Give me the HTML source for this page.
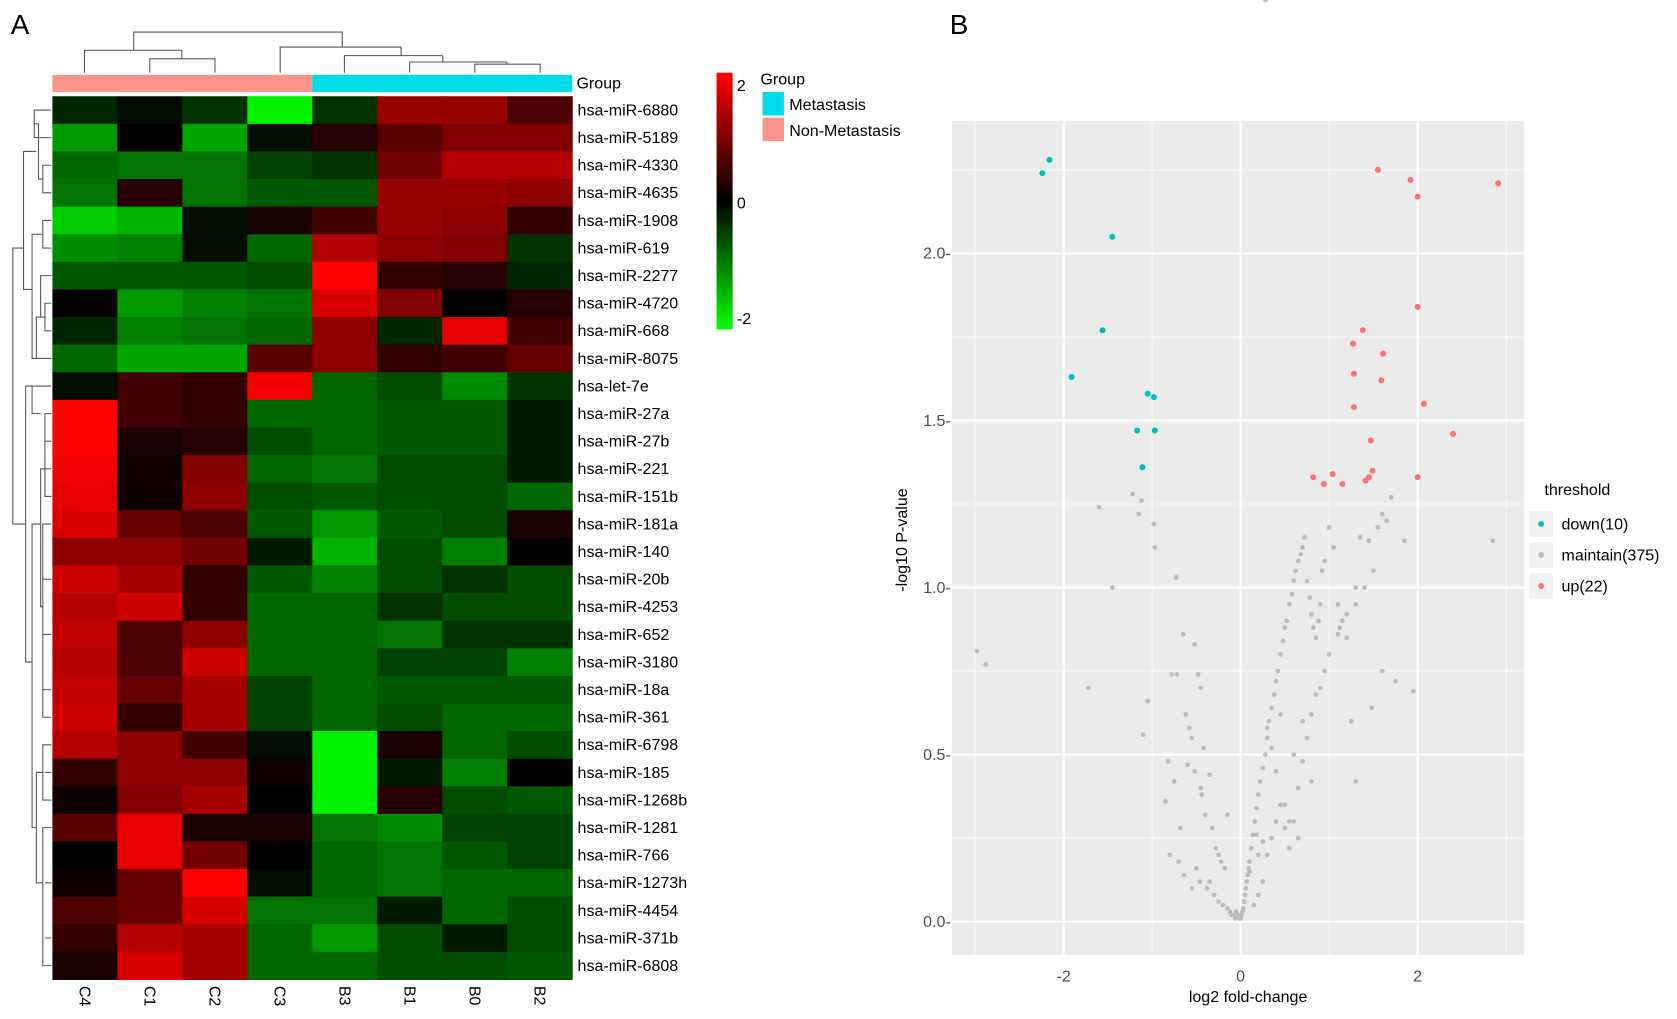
<!DOCTYPE html>
<html><head><meta charset="utf-8"><style>
html,body{margin:0;padding:0;background:#fff;}
svg{display:block;font-family:"Liberation Sans",Arial,sans-serif;}
</style></head><body>
<svg id="fig" width="1677" height="1019" viewBox="0 0 1568 953" preserveAspectRatio="none" xmlns="http://www.w3.org/2000/svg">
<text x="10" y="32" font-size="26">A</text>
<text x="888" y="32" font-size="26">B</text>
<g id="dendroTop" fill="none" stroke="#555" stroke-width="1">
<path d="M79,68V47H170V47M140,68V55H201V68M170,55V47"/>
<path d="M125,47V30H320V44"/>
<path d="M262,68V44H375V44M322,68V52H414V52M383,68V58H474V58M444,68V60H505V68M474,60V58M414,58V52M375,52V44"/>
</g>
<g id="dendroLeft" fill="none" stroke="#555" stroke-width="1"></g>
<rect x="49" y="70" width="243" height="16" fill="#fa9589"/>
<rect x="292" y="70" width="243" height="16" fill="#00dce8"/>
<text x="539" y="83" font-size="15">Group</text>
<g id="heat"></g>
<g id="rowLabels" font-size="15"></g>
<g id="colLabels" font-size="15"></g>
<defs><linearGradient id="cb" x1="0" y1="0" x2="0" y2="1"><stop offset="0" stop-color="#ff0000"/><stop offset="0.5" stop-color="#000"/><stop offset="1" stop-color="#00ff00"/></linearGradient></defs>
<rect x="670" y="68" width="15" height="240" fill="url(#cb)"/>
<text x="689" y="85" font-size="15">2</text>
<text x="689" y="195" font-size="15">0</text>
<text x="689" y="303" font-size="15">-2</text>
<text x="711" y="79" font-size="15">Group</text>
<rect x="713" y="86" width="20" height="22" fill="#00dce8"/>
<text x="738" y="103" font-size="15">Metastasis</text>
<rect x="713" y="110" width="20" height="22" fill="#fa9589"/>
<text x="738" y="127" font-size="15">Non-Metastasis</text>
<g id="volcano"></g>
</svg>
<script>
var NS="http://www.w3.org/2000/svg";
function mk(tag,attrs,parent,txt){var e=document.createElementNS(NS,tag);for(var k in attrs)e.setAttribute(k,attrs[k]);if(txt!==undefined)e.textContent=txt;parent.appendChild(e);return e;}
var columns=["C4","C1","C2","C3","B3","B1","B0","B2"];
var rows=["hsa-miR-6880","hsa-miR-5189","hsa-miR-4330","hsa-miR-4635","hsa-miR-1908","hsa-miR-619","hsa-miR-2277","hsa-miR-4720","hsa-miR-668","hsa-miR-8075","hsa-let-7e","hsa-miR-27a","hsa-miR-27b","hsa-miR-221","hsa-miR-151b","hsa-miR-181a","hsa-miR-140","hsa-miR-20b","hsa-miR-4253","hsa-miR-652","hsa-miR-3180","hsa-miR-18a","hsa-miR-361","hsa-miR-6798","hsa-miR-185","hsa-miR-1268b","hsa-miR-1281","hsa-miR-766","hsa-miR-1273h","hsa-miR-4454","hsa-miR-371b","hsa-miR-6808"];
var values=[
[-0.3,-0.1,-0.4,-1.9,-0.4,1.2,1.2,0.6],
[-1.2,0,-1.3,-0.1,0.3,0.7,1.0,1.0],
[-0.8,-0.9,-0.9,-0.5,-0.4,0.9,1.4,1.4],
[-0.9,0.3,-0.9,-0.7,-0.7,1.2,1.2,1.1],
[-1.6,-1.4,-0.1,0.2,0.5,1.2,1.1,0.4],
[-1.1,-1.0,-0.1,-0.8,1.4,1.1,1.0,-0.4],
[-0.7,-0.7,-0.7,-0.6,2.0,0.4,0.3,-0.3],
[0,-1.2,-1.0,-0.9,1.7,1.0,0,0.3],
[-0.3,-1.0,-0.9,-0.8,1.1,-0.3,1.8,0.5],
[-0.8,-1.3,-1.3,0.7,1.1,0.4,0.5,0.8],
[-0.1,0.5,0.4,1.9,-0.8,-0.6,-1.1,-0.4],
[2.0,0.5,0.4,-0.8,-0.8,-0.7,-0.7,-0.2],
[2.0,0.2,0.3,-0.6,-0.8,-0.7,-0.7,-0.2],
[1.9,0.1,1.0,-0.8,-0.9,-0.6,-0.6,-0.2],
[1.8,0.1,1.1,-0.6,-0.7,-0.6,-0.6,-0.8],
[1.7,0.8,0.6,-0.7,-1.2,-0.7,-0.6,0.2],
[1.1,1.1,0.9,-0.2,-1.4,-0.6,-1.0,0],
[1.6,1.3,0.4,-0.7,-1.0,-0.6,-0.4,-0.6],
[1.4,1.6,0.4,-0.8,-0.8,-0.4,-0.6,-0.6],
[1.5,0.6,1.1,-0.8,-0.8,-0.9,-0.4,-0.4],
[1.4,0.6,1.6,-0.8,-0.8,-0.5,-0.5,-1.0],
[1.5,0.8,1.3,-0.5,-0.8,-0.7,-0.7,-0.7],
[1.6,0.4,1.3,-0.5,-0.8,-0.6,-0.8,-0.8],
[1.4,1.1,0.5,-0.1,-1.9,0.2,-0.8,-0.6],
[0.4,1.1,1.1,0.1,-1.9,-0.2,-1.0,0],
[0.1,1.0,1.3,0,-1.9,0.3,-0.6,-0.7],
[0.7,1.8,0.2,0.2,-0.9,-1.1,-0.5,-0.5],
[0,1.8,0.9,0,-0.8,-0.9,-0.7,-0.5],
[0.1,0.8,2.0,-0.1,-0.8,-0.9,-0.8,-0.8],
[0.6,0.8,1.7,-0.9,-0.9,-0.2,-0.8,-0.6],
[0.4,1.4,1.3,-0.8,-1.2,-0.6,-0.2,-0.6],
[0.2,1.7,1.3,-0.8,-0.8,-0.6,-0.6,-0.7]];
var HX0=49,HY0=90,CW=(535-49)/8,RH=(916-90)/32;
function col(v){var t=Math.max(-2,Math.min(2,v))/2;var c=Math.round(Math.abs(t)*255);return t>=0?"rgb("+c+",0,0)":"rgb(0,"+c+",0)";}
var heat=document.getElementById("heat");
rows.forEach(function(r,i){
 values[i].forEach(function(v,j){
  var c=mk("rect",{x:HX0+j*CW,y:HY0+i*RH,width:CW+0.5,height:RH+0.5,fill:col(v)},heat);
  
  
 });
 var t=mk("text",{x:540,y:HY0+i*RH+RH/2+5},document.getElementById("rowLabels"),r);
 
 
});
columns.forEach(function(c,j){
 var cx=HX0+j*CW+CW/2;
 var t=mk("text",{x:cx-5,y:922,transform:"rotate(90 "+(cx-5)+" 922)"},document.getElementById("colLabels"),c);
 
 
});
// row dendrogram (structure only)
var dl=document.getElementById("dendroLeft");
function yr(i){return HY0+i*RH+RH/2;}
var dpaths=[
"M48,"+yr(0)+"H32V"+yr(1)+"H48","M48,"+yr(2)+"H40V"+yr(3)+"H48","M40,"+((yr(2)+yr(3))/2)+"H36V"+((yr(0)+yr(1))/2)+"H32",
"M48,"+yr(4)+"H40V"+yr(5)+"H48","M48,"+yr(7)+"H42V"+yr(8)+"H48","M42,"+((yr(7)+yr(8))/2)+"H38V"+yr(6)+"H48","M48,"+yr(9)+"H34V"+((yr(7)+yr(8))/2)+"H38",
"M40,"+((yr(4)+yr(5))/2)+"H30V"+yr(9)+"H34","M34,"+((yr(0)+yr(3))/2)+"H22V"+((yr(4)+yr(9))/2)+"H30",
"M48,"+yr(10)+"H30V"+yr(11)+"H38",
"M48,"+yr(11)+"H42V"+yr(14)+"H48","M48,"+yr(12)+"H42","M48,"+yr(13)+"H42",
"M48,"+yr(15)+"H40V"+yr(22)+"H48","M48,"+yr(17)+"H40","M48,"+yr(19)+"H40","M48,"+yr(21)+"H40",
"M42,"+yr(13)+"H38V"+yr(18)+"H40",
"M48,"+yr(23)+"H40V"+yr(25)+"H48","M48,"+yr(24)+"H42",
"M48,"+yr(26)+"H40V"+yr(31)+"H48","M48,"+yr(28)+"H42","M48,"+yr(30)+"H42",
"M40,"+yr(24)+"H34V"+yr(28)+"H40","M38,"+yr(15)+"H30V"+yr(26)+"H34",
"M30,"+yr(10)+"H24V"+yr(20)+"H30","M22,"+yr(5)+"H12V"+yr(15)+"H24"];
dpaths.forEach(function(d){var p=mk("path",{d:d},dl);});

// volcano
var xTicks=[-2,0,2];
var yTicks=[0,0.5,1,1.5,2];
var yTickLabels=["0.0-","0.5-","1.0-","1.5-","2.0-"];
var downX=[-2.16,-2.24,-1.45,-1.56,-1.91,-1.05,-0.98,-1.17,-0.97,-1.11];
var downY=[2.28,2.24,2.05,1.77,1.63,1.58,1.57,1.47,1.47,1.36];
var upX=[1.55,1.92,2.0,2.91,2.0,1.38,1.27,1.61,1.28,1.59,2.07,1.28,2.40,1.47,0.82,1.04,0.94,1.15,1.49,1.45,1.41,2.0];
var upY=[2.25,2.22,2.17,2.21,1.84,1.77,1.73,1.70,1.64,1.62,1.55,1.54,1.46,1.44,1.33,1.34,1.31,1.31,1.35,1.33,1.32,1.33];
var grayX=[-2.98,-2.88,-1.72,-1.6,-1.45,-1.22,-1.15,-1.12,-0.98,-0.97,-0.73,-1.05,-1.1,-0.65,-0.52,-0.48,-0.45,-0.78,-0.72,-0.62,-0.58,-0.55,-0.42,-0.35,-0.85,-0.82,-0.75,-0.68,-0.6,-0.52,-0.44,-0.4,-0.32,-0.28,-0.22,-0.18,-0.8,-0.7,-0.64,-0.5,-0.46,-0.38,-0.3,-0.25,-0.2,-0.15,-0.12,-0.1,-0.08,-0.06,-0.05,-0.03,-0.02,-0.01,0,0.01,0.02,0.03,0.04,0.05,0.06,0.07,0.08,0.09,0.1,0.12,0.14,0.16,0.18,0.2,0.22,0.25,0.28,0.3,0.32,0.35,0.38,0.4,0.42,0.45,0.48,0.5,0.52,0.55,0.58,0.6,0.62,0.65,0.68,0.7,0.72,0.75,0.78,0.8,0.82,0.85,0.88,0.9,0.92,0.95,1.0,1.05,1.1,1.15,1.2,1.25,1.3,0.15,0.2,0.25,0.3,0.35,0.4,0.45,0.5,0.55,0.6,0.65,0.7,0.75,0.8,0.85,0.9,0.95,1.0,1.1,1.2,1.3,1.4,1.5,1.6,1.7,1.55,1.45,1.65,1.85,1.95,2.85,1.35,1.3,1.75,1.12,1.48,1.6,0.3,0.4,0.5,0.6,0.7,0.8,0.35,0.45,0.55,0.65,-0.35,-0.25,-0.15,-0.45,-0.55,0.1,0.2,0.25,0.18,0.28];
var grayY=[0.81,0.77,0.7,1.24,1.0,1.28,1.22,1.26,1.19,1.12,1.03,0.66,0.56,0.86,0.83,0.74,0.7,0.74,0.74,0.62,0.58,0.55,0.52,0.44,0.36,0.48,0.42,0.28,0.47,0.45,0.38,0.32,0.28,0.22,0.18,0.16,0.2,0.18,0.14,0.16,0.12,0.1,0.08,0.06,0.05,0.04,0.03,0.02,0.02,0.01,0.03,0.02,0.01,0.01,0.01,0.02,0.03,0.04,0.06,0.08,0.1,0.12,0.14,0.16,0.18,0.22,0.26,0.3,0.34,0.38,0.42,0.46,0.5,0.55,0.6,0.64,0.68,0.72,0.75,0.8,0.84,0.88,0.9,0.95,0.98,1.02,1.05,1.08,1.1,1.12,1.15,1.02,0.97,0.92,0.88,0.85,0.9,0.95,1.05,1.08,1.18,1.12,0.95,0.9,0.85,0.6,0.42,0.05,0.08,0.12,0.2,0.25,0.3,0.35,0.28,0.22,0.3,0.4,0.48,0.55,0.62,0.68,0.7,0.75,0.8,0.86,0.92,0.95,1.0,1.05,1.22,1.27,1.18,1.14,1.2,1.14,0.69,1.14,1.15,1.0,0.72,0.88,0.64,0.75,0.58,0.45,0.35,0.5,0.6,0.42,0.52,0.62,0.3,0.25,0.12,0.2,0.32,0.4,0.1,0.15,0.2,0.24,0.26];
var PX0=890,PX1=1425,PY0=113,PY1=893;
function sx(v){return 1160+v*82.75;}
function sy(v){return 862-v*312.5;}
var vg=document.getElementById("volcano");
var bg=mk("rect",{x:PX0,y:PY0,width:PX1-PX0,height:PY1-PY0,fill:"#ebebeb"},vg);


[-3,-1,1,3].forEach(function(v){var l=mk("line",{x1:sx(v),x2:sx(v),y1:PY0,y2:PY1,stroke:"#f7f7f7","stroke-width":1},vg);});
[0.25,0.75,1.25,1.75,2.25].forEach(function(v){var l=mk("line",{x1:PX0,x2:PX1,y1:sy(v),y2:sy(v),stroke:"#f7f7f7","stroke-width":1},vg);});
xTicks.forEach(function(v){
 var l=mk("line",{x1:sx(v),x2:sx(v),y1:PY0,y2:PY1,stroke:"#fff","stroke-width":2},vg);
 
 
 var t=mk("text",{x:sx(v),y:PY1+25,"text-anchor":"middle","font-size":15,fill:"#4d4d4d"},vg,String(v));
 
 
});
yTicks.forEach(function(v,i){
 var l=mk("line",{x1:PX0,x2:PX1,y1:sy(v),y2:sy(v),stroke:"#fff","stroke-width":2},vg);
 
 
 var t=mk("text",{x:PX0-1,y:sy(v)+5,"text-anchor":"end","font-size":15,fill:"#4d4d4d"},vg,yTickLabels[i]);
 
 
});
grayX.forEach(function(x,i){var c=mk("circle",{cx:sx(x),cy:sy(grayY[i]),r:2.2,fill:"#bdbdbd"},vg);});
downX.forEach(function(x,i){var c=mk("circle",{cx:sx(x),cy:sy(downY[i]),r:2.8,fill:"#00bfc4"},vg);});
upX.forEach(function(x,i){var c=mk("circle",{cx:sx(x),cy:sy(upY[i]),r:2.8,fill:"#f8766d"},vg);});
var xt=mk("text",{x:1167,y:937,"text-anchor":"middle","font-size":15},vg,"log2 fold-change");


var yt=mk("text",{x:848,y:505,"text-anchor":"middle","font-size":15,transform:"rotate(-90 848 505)"},vg,"-log10 P-value");


var lt=mk("text",{x:1444,y:463,"font-size":15},vg,"threshold");


var legLabels=["down(10)","maintain(375)","up(22)"];
var legColors=["#00bfc4","#bdbdbd","#f8766d"];
legLabels.forEach(function(s,i){
 var y=490+i*29;
 var k=mk("rect",{x:1430,y:y-12,width:22,height:24,fill:"#f2f2f2"},vg);
 
 
 var c=mk("circle",{cx:1441,cy:y,r:2.8,fill:legColors[i]},vg);
 
 
 var t=mk("text",{x:1460,y:y+5,"font-size":15},vg,s);
 
 
});
</script>
</body></html>
